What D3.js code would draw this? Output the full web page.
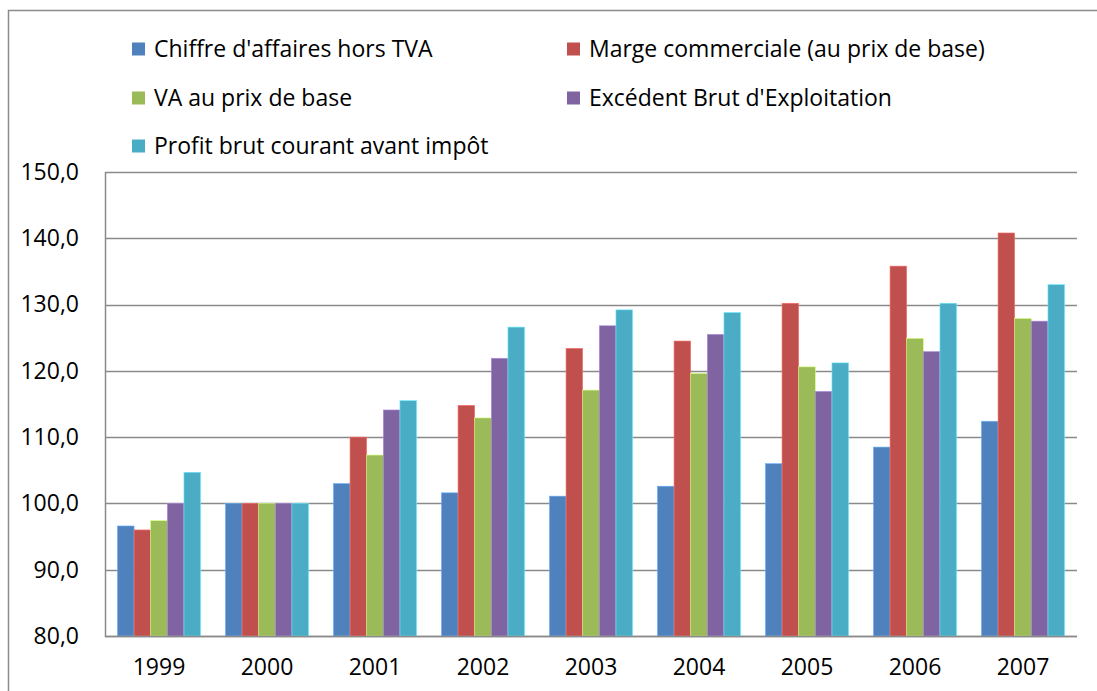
<!DOCTYPE html>
<html>
<head>
<meta charset="utf-8">
<script src="https://cdn.jsdelivr.net/npm/d3@7/dist/d3.min.js"></script>
<style>
  html, body { margin: 0; padding: 0; background: #fff; }
  svg { display: block; font-family: "Open Sans", "Noto Sans", sans-serif; }
</style>
</head>
<body>
<div id="chart"></div>
<script>
const years = ["1999", "2000", "2001", "2002", "2003", "2004", "2005", "2006", "2007"];
const seriesNames = [
  "Chiffre d'affaires hors TVA",
  "Marge commerciale (au prix de base)",
  "VA au prix de base",
  "Excédent Brut d'Exploitation",
  "Profit brut courant avant impôt"
];
const chiffreAffaires = [96.6, 100.0, 103.0, 101.6, 101.1, 102.6, 106.0, 108.5, 112.4];
const margeCommerciale = [96.0, 100.0, 110.0, 114.8, 123.4, 124.5, 130.2, 135.8, 140.8];
const vaPrixBase = [97.4, 100.0, 107.3, 112.9, 117.1, 119.6, 120.6, 124.9, 127.9];
const ebe = [100.0, 100.0, 114.1, 121.9, 126.8, 125.5, 116.9, 122.9, 127.5];
const profitBrut = [104.7, 100.0, 115.5, 126.6, 129.2, 128.8, 121.2, 130.2, 133.0];
const yTicks = [80, 90, 100, 110, 120, 130, 140, 150];
const colors = ["#4F81BD", "#C0504D", "#9BBB59", "#8064A2", "#4BACC6"];

const seriesValues = [chiffreAffaires, margeCommerciale, vaPrixBase, ebe, profitBrut];

const width = 1097, height = 691;
const plot = { left: 105, right: 1077, top: 172, bottom: 636 };
const fontFamily = "'Open Sans', 'Noto Sans', sans-serif";
const fontSize = 23;

const svg = d3.select("#chart").append("svg")
  .attr("width", width)
  .attr("height", height);

// chart frame
svg.append("path")
  .attr("d", `M8.5,${height + 5}V10.5H${width + 5}`)
  .attr("fill", "none")
  .attr("stroke", "#8c8c8c")
  .attr("stroke-width", 1.5);

const x = d3.scaleBand().domain(years).range([plot.left, plot.right]).paddingInner(0.23).paddingOuter(0.115);
const xs = d3.scaleBand().domain(d3.range(seriesNames.length)).range([0, x.bandwidth()]);
const y = d3.scaleLinear().domain([80, 150]).range([plot.bottom, plot.top]);

// gridlines
svg.append("g")
  .selectAll("line")
  .data(yTicks)
  .join("line")
  .attr("x1", plot.left)
  .attr("x2", plot.right)
  .attr("y1", (d) => Math.round(y(d)) + 0.5)
  .attr("y2", (d) => Math.round(y(d)) + 0.5)
  .attr("stroke", "#8a8a8a")
  .attr("stroke-width", 1.5);

// bars
const groups = svg.append("g")
  .selectAll("g")
  .data(years)
  .join("g")
  .attr("transform", (d) => `translate(${x(d)},0)`);

groups.selectAll("rect")
  .data((d, i) => seriesValues.map((vals, s) => ({ s, v: vals[i] })))
  .join("rect")
  .attr("x", (d) => xs(d.s))
  .attr("width", xs.bandwidth())
  .attr("y", (d) => y(d.v))
  .attr("height", (d) => y(80) - y(d.v))
  .attr("fill", (d) => colors[d.s])
  .attr("stroke", (d) => d3.color(colors[d.s]).brighter(0.9))
  .attr("stroke-width", 0.6);

// axes lines
svg.append("line")
  .attr("x1", plot.left + 0.5).attr("x2", plot.left + 0.5)
  .attr("y1", plot.top).attr("y2", plot.bottom + 1)
  .attr("stroke", "#8a8a8a").attr("stroke-width", 1.5);
svg.append("line")
  .attr("x1", plot.left).attr("x2", plot.right)
  .attr("y1", plot.bottom + 0.5).attr("y2", plot.bottom + 0.5)
  .attr("stroke", "#8a8a8a").attr("stroke-width", 1.5);

const fmt = (v) => d3.format(".1f")(v).replace(".", ",");

const yAxis = d3.axisLeft(y).tickValues(yTicks).tickFormat(fmt).tickSize(0).tickPadding(26);
svg.append("g")
  .attr("transform", `translate(${plot.left},0)`)
  .call(yAxis)
  .call((g) => g.select(".domain").remove())
  .selectAll("text")
  .attr("font-size", fontSize)
  .attr("font-family", fontFamily)
  .attr("fill", "#000");

const xAxis = d3.axisBottom(x).tickSize(0).tickPadding(23);
svg.append("g")
  .attr("transform", `translate(0,${plot.bottom})`)
  .call(xAxis)
  .call((g) => g.select(".domain").remove())
  .selectAll("text")
  .attr("font-size", fontSize)
  .attr("font-family", fontFamily)
  .attr("fill", "#000");

// legend
const legendPos = [
  { x: 132, y: 49 }, { x: 567, y: 49 },
  { x: 132, y: 98 }, { x: 567, y: 98 },
  { x: 132, y: 146 }
];
const legend = svg.append("g")
  .selectAll("g")
  .data(seriesNames)
  .join("g")
  .attr("transform", (d, i) => `translate(${legendPos[i].x},${legendPos[i].y})`);

legend.append("rect")
  .attr("x", 0).attr("y", -6.5)
  .attr("width", 13).attr("height", 13)
  .attr("fill", (d, i) => colors[i]);

legend.append("text")
  .attr("x", 22)
  .attr("dy", "0.35em")
  .attr("font-size", fontSize)
  .attr("fill", "#000")
  .text((d) => d);
</script>
</body>
</html>
